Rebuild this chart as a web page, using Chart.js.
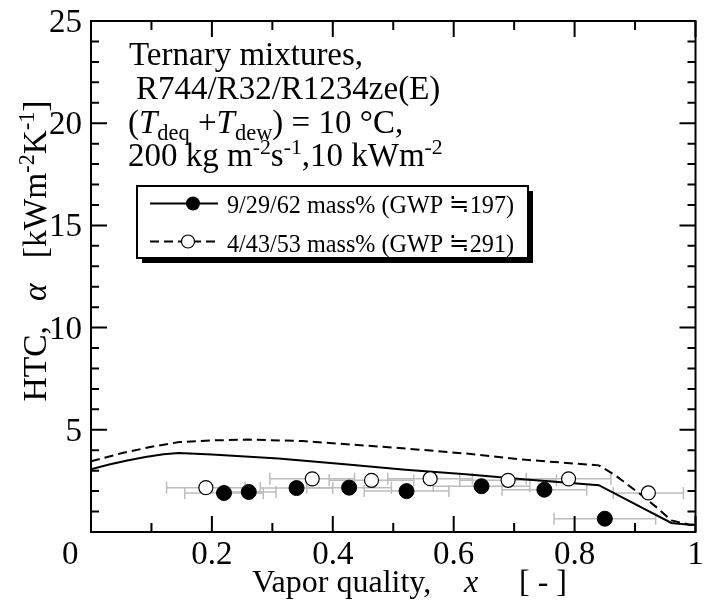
<!DOCTYPE html>
<html>
<head>
<meta charset="utf-8">
<script src="https://cdn.jsdelivr.net/npm/chart.js@4.4.0/dist/chart.umd.min.js"></script>
<style>
  html, body { margin: 0; padding: 0; background: #fff; }
  #wrap { width: 704px; height: 607px; }
</style>
</head>
<body>
<div id="wrap"><canvas id="htcChart" width="704" height="607"></canvas></div>
<script>
// axis ticks
const xTicks = [0, 0.2, 0.4, 0.6, 0.8, 1];
const xTickLabels = ['', '0.2', '0.4', '0.6', '0.8', '1'];
const yTicks = [0, 5, 10, 15, 20, 25];
const yTickLabels = ['', '5', '10', '15', '20', '25'];

// model curves (vapor quality / HTC)
const modelX1 = [0, 0.03, 0.06, 0.09, 0.12, 0.145, 0.2, 0.31, 0.42, 0.52, 0.62, 0.72, 0.84, 0.96, 0.99, 1.0];
const modelY1 = [3.07, 3.30, 3.50, 3.67, 3.80, 3.87, 3.79, 3.59, 3.31, 3.04, 2.83, 2.57, 2.29, 0.44, 0.36, 0.36];
const modelX2 = [0, 0.05, 0.10, 0.146, 0.20, 0.26, 0.35, 0.43, 0.51, 0.62, 0.72, 0.80, 0.84, 0.867, 0.889, 0.911, 0.938, 0.96, 0.99, 1.0];
const modelY2 = [3.46, 3.85, 4.17, 4.40, 4.48, 4.52, 4.45, 4.28, 4.11, 3.84, 3.53, 3.35, 3.26, 2.78, 2.29, 1.80, 1.15, 0.57, 0.36, 0.36];

// measured points 9/29/62
const measX1 = [0.220, 0.261, 0.340, 0.427, 0.522, 0.646, 0.750, 0.850];
const measY1 = [1.91, 1.96, 2.15, 2.17, 2.00, 2.24, 2.07, 0.65];
const measErr1 = [0.065, 0.045, 0.06, 0.07, 0.07, 0.08, 0.07, 0.084];
// measured points 4/43/53
const measX2 = [0.190, 0.366, 0.464, 0.561, 0.690, 0.790, 0.922];
const measY2 = [2.17, 2.60, 2.53, 2.61, 2.53, 2.60, 1.91];
const measErr2 = [0.065, 0.07, 0.07, 0.07, 0.08, 0.07, 0.058];

const legendLabels = ['9/29/62 mass% (GWP \u2252197)', '4/43/53 mass% (GWP \u2252291)'];

const FONT = '"Liberation Serif", "Times New Roman", serif';

const toXY = (xs, ys) => xs.map((x, i) => ({ x: x, y: ys[i] }));

// draws a line of text made of runs: [text, style]
function drawRuns(ctx, runs, x, y, size) {
    let cx = x;
    runs.forEach(([txt, st]) => {
        let fs = size, dy = 0, it = '';
        if (st === 'i') it = 'italic ';
        if (st === 'sub') { fs = size * 0.68; dy = size * 0.22; }
        if (st === 'sup') { fs = size * 0.66; dy = -size * 0.36; }
        ctx.font = it + fs + 'px ' + FONT;
        ctx.fillText(txt, cx, y + dy);
        cx += ctx.measureText(txt).width;
    });
    return cx - x;
}
function runsWidth(ctx, runs, size) {
    let w = 0;
    runs.forEach(([txt, st]) => {
        let fs = size, it = '';
        if (st === 'i') it = 'italic ';
        if (st === 'sub') fs = size * 0.68;
        if (st === 'sup') fs = size * 0.66;
        ctx.font = it + fs + 'px ' + FONT;
        w += ctx.measureText(txt).width;
    });
    return w;
}

const errorBars = {
    id: 'errorBars',
    beforeDatasetsDraw(chart) {
        const ctx = chart.ctx, xs = chart.scales.x, ys = chart.scales.y;
        ctx.save();
        ctx.strokeStyle = '#bdbdbd';
        ctx.lineWidth = 1.5;
        const draw = (mx, my, me) => {
            mx.forEach((x, i) => {
                const x0 = xs.getPixelForValue(x - me[i]);
                const x1 = xs.getPixelForValue(x + me[i]);
                const py = ys.getPixelForValue(my[i]);
                ctx.beginPath();
                ctx.moveTo(x0, py); ctx.lineTo(x1, py);
                ctx.moveTo(x0, py - 6); ctx.lineTo(x0, py + 6);
                ctx.moveTo(x1, py - 6); ctx.lineTo(x1, py + 6);
                ctx.stroke();
            });
        };
        draw(measX1, measY1, measErr1);
        draw(measX2, measY2, measErr2);
        ctx.restore();
    }
};

const frameAndText = {
    id: 'frameAndText',
    afterDraw(chart) {
        const ctx = chart.ctx, xs = chart.scales.x, ys = chart.scales.y;
        const a = chart.chartArea;
        ctx.save();
        ctx.strokeStyle = '#000';
        ctx.fillStyle = '#000';
        ctx.lineWidth = 2;
        ctx.strokeRect(a.left, a.top, a.right - a.left, a.bottom - a.top);

        // inward ticks on all four sides
        ctx.beginPath();
        for (let v = 0.1; v < 1; v += 0.1) {
            const major = Math.round(v * 10) % 2 === 0;
            const len = major ? 16 : 9;
            const px = xs.getPixelForValue(v);
            ctx.moveTo(px, a.bottom); ctx.lineTo(px, a.bottom - len);
            ctx.moveTo(px, a.top); ctx.lineTo(px, a.top + len);
        }
        for (let v = 1; v < 25; v++) {
            const len = v % 5 === 0 ? 16 : 8;
            const py = ys.getPixelForValue(v);
            ctx.moveTo(a.left, py); ctx.lineTo(a.left + len, py);
            ctx.moveTo(a.right, py); ctx.lineTo(a.right - len, py);
        }
        ctx.stroke();

        // tick labels
        ctx.font = '33px ' + FONT;
        ctx.textAlign = 'center';
        ctx.textBaseline = 'alphabetic';
        xTicks.forEach((v, i) => {
            if (xTickLabels[i]) ctx.fillText(xTickLabels[i], xs.getPixelForValue(v), 564);
        });
        ctx.textAlign = 'right';
        yTicks.forEach((v, i) => {
            if (yTickLabels[i]) ctx.fillText(yTickLabels[i], 82, ys.getPixelForValue(v) + 11);
        });
        ctx.textAlign = 'left';
        ctx.fillText('0', 62, 564);

        // axis titles
        ctx.font = '32px ' + FONT;
        ctx.fillText('Vapor quality,', 252, 592);
        ctx.font = 'italic 32px ' + FONT;
        ctx.fillText('x', 464, 592);
        ctx.font = '32px ' + FONT;
        ctx.fillText('[ - ]', 519, 592);

        const yRuns = [['HTC,   ', 'n'], ['\u03b1', 'i'], ['   [kWm', 'n'], ['-2', 'sup'], ['K', 'n'], ['-1', 'sup'], [']', 'n']];
        ctx.save();
        ctx.translate(46, 251);
        ctx.rotate(-Math.PI / 2);
        const yw = runsWidth(ctx, yRuns, 33.5);
        drawRuns(ctx, yRuns, -yw / 2, 0, 33.5);
        ctx.restore();

        // annotation
        drawRuns(ctx, [['Ternary mixtures,', 'n']], 129, 65, 33);
        drawRuns(ctx, [['R744/R32/R1234ze(E)', 'n']], 136, 99, 33);
        drawRuns(ctx, [['(', 'n'], ['T', 'i'], ['deq', 'sub'], [' +', 'n'], ['T', 'i'], ['dew', 'sub'], [') = 10 \u00b0C,', 'n']], 128, 133, 33);
        drawRuns(ctx, [['200 kg m', 'n'], ['-2', 'sup'], ['s', 'n'], ['-1', 'sup'], [',10 kWm', 'n'], ['-2', 'sup']], 128, 166, 33);

        // legend box with shadow
        const bx = 137, by = 186, bw = 391, bh = 72;
        ctx.fillStyle = '#000';
        ctx.fillRect(bx + 5, by + 5, bw, bh);
        ctx.fillStyle = '#fff';
        ctx.fillRect(bx, by, bw, bh);
        ctx.strokeStyle = '#000';
        ctx.lineWidth = 2;
        ctx.strokeRect(bx, by, bw, bh);

        ctx.lineWidth = 2;
        ctx.beginPath();
        ctx.moveTo(150, 203.5); ctx.lineTo(218, 203.5);
        ctx.stroke();
        ctx.fillStyle = '#000';
        ctx.beginPath(); ctx.arc(193, 203.5, 7, 0, Math.PI * 2); ctx.fill();

        ctx.setLineDash([9, 5]);
        ctx.beginPath();
        ctx.moveTo(150, 241.5); ctx.lineTo(218, 241.5);
        ctx.stroke();
        ctx.setLineDash([]);
        ctx.fillStyle = '#fff';
        ctx.lineWidth = 1.2;
        ctx.beginPath(); ctx.arc(188, 241.5, 6.5, 0, Math.PI * 2); ctx.fill(); ctx.stroke();

        // legend text is a bit condensed in the original
        ctx.fillStyle = '#000';
        ctx.font = '26px ' + FONT;
        [213, 252].forEach((ty, i) => {
            ctx.save();
            ctx.translate(227, ty);
            ctx.scale(0.93, 1);
            ctx.fillText(legendLabels[i], 0, 0);
            ctx.restore();
        });
        ctx.restore();
    }
};

const ctx = document.getElementById('htcChart').getContext('2d');
new Chart(ctx, {
    type: 'line',
    data: {
        datasets: [{
            label: legendLabels[0],
            data: toXY(measX1, measY1),
            showLine: false,
            pointRadius: 7.5,
            pointBackgroundColor: '#000',
            pointBorderColor: '#000',
            pointBorderWidth: 1,
            order: 0
        }, {
            label: legendLabels[1],
            data: toXY(measX2, measY2),
            showLine: false,
            pointRadius: 7,
            pointBackgroundColor: '#fff',
            pointBorderColor: '#000',
            pointBorderWidth: 1.2,
            order: 0
        }, {
            label: 'model 1',
            data: toXY(modelX1, modelY1),
            borderColor: '#000',
            borderWidth: 2,
            pointRadius: 0,
            tension: 0,
            order: 1
        }, {
            label: 'model 2',
            data: toXY(modelX2, modelY2),
            borderColor: '#000',
            borderWidth: 2,
            borderDash: [9, 5],
            pointRadius: 0,
            tension: 0,
            order: 1
        }]
    },
    options: {
        responsive: false,
        animation: false,
        devicePixelRatio: 1,
        layout: { padding: { left: 91, top: 21, right: 4, bottom: 75 } },
        scales: {
            x: { type: 'linear', min: 0, max: 1, display: false },
            y: { type: 'linear', min: 0, max: 25, display: false }
        },
        plugins: {
            legend: { display: false },
            tooltip: { enabled: false }
        }
    },
    plugins: [errorBars, frameAndText]
});
</script>
</body>
</html>
